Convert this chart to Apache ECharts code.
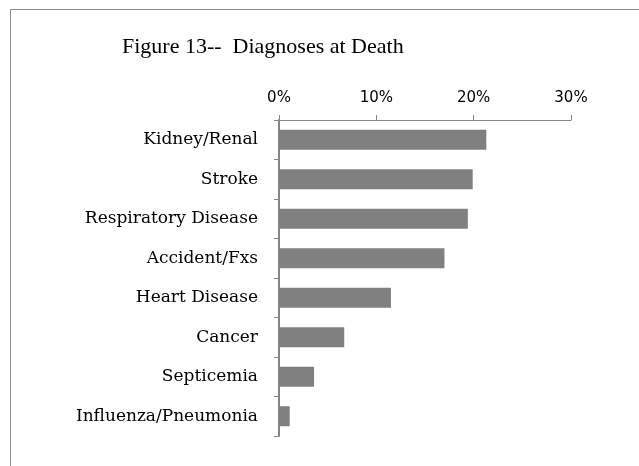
<!DOCTYPE html>
<html>
<head>
<meta charset="utf-8">
<script src="https://cdn.jsdelivr.net/npm/echarts@6/dist/echarts.min.js"></script>
<style>
  html, body { margin: 0; padding: 0; background: #fff; }
  #chart { width: 639px; height: 466px; }
</style>
</head>
<body>
<div id="chart"></div>
<script>
const categories = [
  'Kidney/Renal',
  'Stroke',
  'Respiratory Disease',
  'Accident/Fxs',
  'Heart Disease',
  'Cancer',
  'Septicemia',
  'Influenza/Pneumonia'
]
const shares = [0.213, 0.199, 0.194, 0.170, 0.115, 0.067, 0.036, 0.011]
const ticks = [0, 0.1, 0.2, 0.3]

const chart = echarts.init(document.getElementById('chart'))
const serif = '"DejaVu Serif", "Liberation Serif", serif'

const option = {
  animation: false,
  title: {
    text: 'Figure 13--  Diagnoses at Death',
    left: 117,
    top: 31,
    textStyle: {
      fontFamily: '"Liberation Serif", serif',
      fontWeight: 'normal',
      fontSize: 22,
      color: '#000'
    }
  },
  graphic: [
    {
      type: 'rect',
      shape: { x: 10.5, y: 9.5, width: 1000, height: 1000 },
      style: { fill: 'none', stroke: '#8c8c8c', lineWidth: 1 },
      silent: true
    }
  ],
  grid: {
    left: 279,
    top: 120,
    right: 68,
    bottom: 30
  },
  xAxis: {
    type: 'value',
    position: 'top',
    min: ticks[0],
    max: ticks[ticks.length - 1],
    interval: 0.1,
    axisLine: { show: true, lineStyle: { color: '#868686' } },
    axisTick: { show: true, length: 5, lineStyle: { color: '#868686' } },
    splitLine: { show: false },
    axisLabel: {
      margin: 14,
      fontFamily: '"DejaVu Sans", Verdana, sans-serif',
      fontSize: 15,
      color: '#000',
      formatter: v => Math.round(v * 100) + '%'
    }
  },
  yAxis: {
    type: 'category',
    data: categories,
    inverse: true,
    axisLine: { show: true, lineStyle: { color: '#868686', width: 2 } },
    axisTick: { show: true, length: 5, lineStyle: { color: '#868686' } },
    axisLabel: {
      margin: 21,
      fontFamily: serif,
      fontSize: 17,
      color: '#000'
    }
  },
  series: [
    {
      type: 'bar',
      data: shares,
      barWidth: 20,
      itemStyle: { color: '#808080' }
    }
  ]
}

chart.setOption(option)
</script>
</body>
</html>
